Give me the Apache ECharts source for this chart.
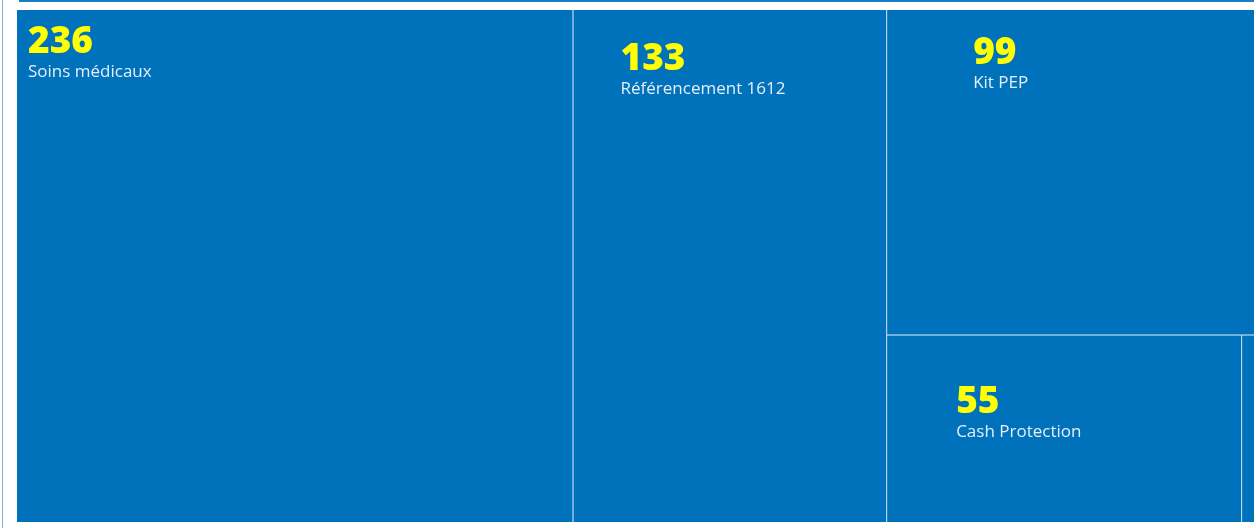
<!DOCTYPE html>
<html>
<head>
<meta charset="utf-8">
<script src="https://cdn.jsdelivr.net/npm/echarts@6/dist/echarts.min.js"></script>
<style>
    html, body { margin: 0; padding: 0; background: #fff; }
    #frame-left { position: absolute; left: 2px; top: 0; width: 1px; height: 528px; background: #7fb2df; }
    #frame-top { position: absolute; left: 19px; top: 0; width: 1235px; height: 2px; background: #1a7cc4; }
    #treemap { position: absolute; left: 0; top: 0; width: 1256px; height: 528px; }
</style>
</head>
<body>
<div id="frame-left"></div>
<div id="frame-top"></div>
<div id="treemap"></div>
<script>
    // données
    var names = ['Soins médicaux', 'Référencement 1612', 'Kit PEP', 'Cash Protection', 'Autre'];
    var values = [236, 133, 99, 55, 2];

    // position des étiquettes dans chaque case
    var labelPos = [[6, 9], [42, 26], [81, 20], [64, 44], [0, 0]];

    var myChart = echarts.init(document.getElementById('treemap'));

    var data = [];
    for (var i = 0; i < names.length; i++) {
        data.push({
            name: names[i],
            value: values[i],
            label: {
                show: values[i] > 10,
                position: labelPos[i]
            }
        });
    }

    myChart.setOption({
        animation: false,
        series: [
            {
                type: 'treemap',
                left: 17,
                top: 10,
                right: 2,
                bottom: 6,
                roam: false,
                nodeClick: false,
                squareRatio: 1,
                breadcrumb: { show: false },
                sort: 'desc',
                data: data,
                levels: [
                    {
                        itemStyle: {
                            borderWidth: 0,
                            gapWidth: 1,
                            borderColor: '#c9def0'
                        }
                    },
                    {
                        itemStyle: {
                            color: '#0072bc',
                            borderWidth: 0,
                            gapWidth: 0
                        }
                    }
                ],
                label: {
                    show: true,
                    formatter: function (p) {
                        return '{num|' + p.value + '}\n{name|' + p.name + '}';
                    },
                    rich: {
                        num: {
                            fontFamily: 'Open Sans',
                            fontWeight: 800,
                            fontSize: 37,
                            lineHeight: 36,
                            color: '#ffff00'
                        },
                        name: {
                            fontFamily: 'Open Sans',
                            fontSize: 17,
                            lineHeight: 24,
                            color: '#e6eef7'
                        }
                    }
                },
                upperLabel: { show: false }
            }
        ]
    });
</script>
</body>
</html>
